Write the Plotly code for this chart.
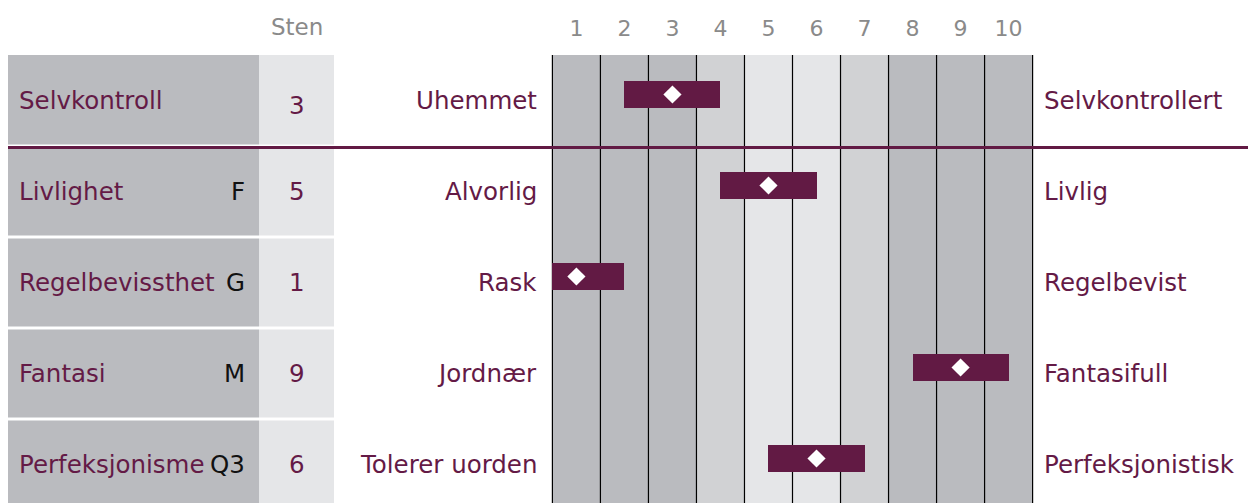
import plotly.graph_objects as go

# ---- data ----
scales = ["Selvkontroll", "Livlighet", "Regelbevissthet", "Fantasi", "Perfeksjonisme"]
codes = ["", "F", "G", "M", "Q3"]
sten = [3, 5, 1, 9, 6]
left_poles = ["Uhemmet", "Alvorlig", "Rask", "Jordnær", "Tolerer uorden"]
right_poles = ["Selvkontrollert", "Livlig", "Regelbevist", "Fantasifull", "Perfeksjonistisk"]
sten_ticks = list(range(1, 11))
header = "Sten"

# ---- style ----
PURPLE = "#621a44"
TEXT_PURPLE = "#641a46"
DARK = "#babbbf"
MID = "#d1d2d4"
LIGHT = "#e5e6e8"
TICK_GRAY = "#8a8a8a"
band_colors = [DARK, DARK, DARK, MID, LIGHT, LIGHT, MID, DARK, DARK, DARK]
FONT = "DejaVu Sans"

OFF = 0  # page body margin removed below
W, H = 1248, 503
ML, MR, MT, MB = 550, 213, 55, 0
PLOT_W = W - ML - MR
PLOT_H = H - MT - MB
ROW_PX = 91.0
X_MIN, X_MAX = 0.5, 10.5
XR = [0.45, 10.55]
YR = [-0.5 + PLOT_H / ROW_PX, -0.5]

def px(p):
    return (p - OFF - ML) / PLOT_W

def row_to_paper(v):
    # convert a y-axis value into a paper fraction (y axis is reversed, top = -0.5)
    return 1 - (v - YR[1]) * ROW_PX / PLOT_H

rows = list(range(len(scales)))
bar_off = -6 / ROW_PX
bar_y = [r + bar_off for r in rows]
bar_base = [max(s - 1, X_MIN) for s in sten]
bar_len = [min(s + 1, X_MAX) - b for s, b in zip(sten, bar_base)]

fig = go.Figure()
fig.add_trace(go.Bar(
    orientation="h", y=bar_y, x=bar_len, base=bar_base,
    width=27 / ROW_PX, marker=dict(color=PURPLE, line=dict(width=0)),
    hoverinfo="skip", showlegend=False,
))
fig.add_trace(go.Scatter(
    x=sten, y=bar_y, mode="markers",
    marker=dict(symbol="diamond", size=14, color="white", line=dict(width=0)),
    hoverinfo="skip", showlegend=False,
))

shapes = []
# column bands
for k, c in zip(sten_ticks, band_colors):
    shapes.append(dict(type="rect", xref="x", yref="paper", x0=k - 0.5, x1=k + 0.5,
                       y0=0, y1=1, fillcolor=c, line=dict(width=0), layer="below"))
for k in range(len(sten_ticks) + 1):
    xv = X_MIN + k
    shapes.append(dict(type="line", xref="x", yref="paper", x0=xv, x1=xv, y0=0, y1=1,
                       line=dict(color="black", width=1.2), layer="below"))
# left table boxes
gap = 1.5 / ROW_PX
for r in rows:
    y0 = -0.5 if r == 0 else r - 0.5 + gap
    y1 = r + 0.5 - gap
    shapes.append(dict(type="rect", xref="paper", yref="y", x0=px(8), x1=px(259),
                       y0=y0, y1=y1, fillcolor=DARK, line=dict(width=0), layer="below"))
    shapes.append(dict(type="rect", xref="paper", yref="y", x0=px(259), x1=px(334),
                       y0=y0, y1=y1, fillcolor=LIGHT, line=dict(width=0), layer="below"))
# separator line (paper refs so it is not clipped horizontally)
sep = row_to_paper(0.5 + gap)
shapes.append(dict(type="line", xref="paper", yref="paper", x0=px(8), x1=px(1260),
                   y0=sep, y1=sep, line=dict(color=PURPLE, width=3), layer="above"))

ann = []
ann.append(dict(text=header, xref="paper", yref="paper", x=px(296.5), y=1 + 28 / PLOT_H,
                xanchor="center", yanchor="middle", showarrow=False,
                font=dict(family=FONT, size=23, color=TICK_GRAY)))
for r in rows:
    f = dict(family=FONT, size=24.5, color=TEXT_PURPLE)
    ann.append(dict(text=scales[r], xref="paper", yref="y", x=px(17), y=r,
                    xanchor="left", yanchor="middle", showarrow=False, font=f))
    if codes[r]:
        ann.append(dict(text=codes[r], xref="paper", yref="y", x=px(247), y=r,
                        xanchor="right", yanchor="middle", showarrow=False,
                        font=dict(family=FONT, size=24.5, color="#111111")))
    ann.append(dict(text=str(sten[r]), xref="paper", yref="y", x=px(296.5), y=r,
                    xanchor="center", yanchor="middle", showarrow=False, font=f,
                    yshift=-5 if r == 0 else 0))
    ann.append(dict(text=left_poles[r], xref="paper", yref="y", x=px(539), y=r,
                    xanchor="right", yanchor="middle", showarrow=False, font=f))
    ann.append(dict(text=right_poles[r], xref="paper", yref="y", x=px(1042), y=r,
                    xanchor="left", yanchor="middle", showarrow=False, font=f))

fig.update_layout(
    width=W, height=H, autosize=False,
    margin=dict(l=ML, r=MR, t=MT, b=MB, pad=0),
    paper_bgcolor="white", plot_bgcolor="white",
    shapes=shapes, annotations=ann, bargap=0,
    xaxis=dict(range=XR, side="top", tickvals=sten_ticks, ticktext=[str(t) for t in sten_ticks],
               showgrid=False, zeroline=False, showline=False, ticks="",
               ticklabelstandoff=14,
               tickfont=dict(family=FONT, size=22, color=TICK_GRAY), fixedrange=True),
    yaxis=dict(range=YR, showgrid=False, zeroline=False, showline=False,
               showticklabels=False, ticks="", fixedrange=True),
    font=dict(family=FONT),
)

fig.write_html("out.html", config={"displayModeBar": False},
               post_script="document.body.style.margin='0';document.body.style.overflow='hidden';")
